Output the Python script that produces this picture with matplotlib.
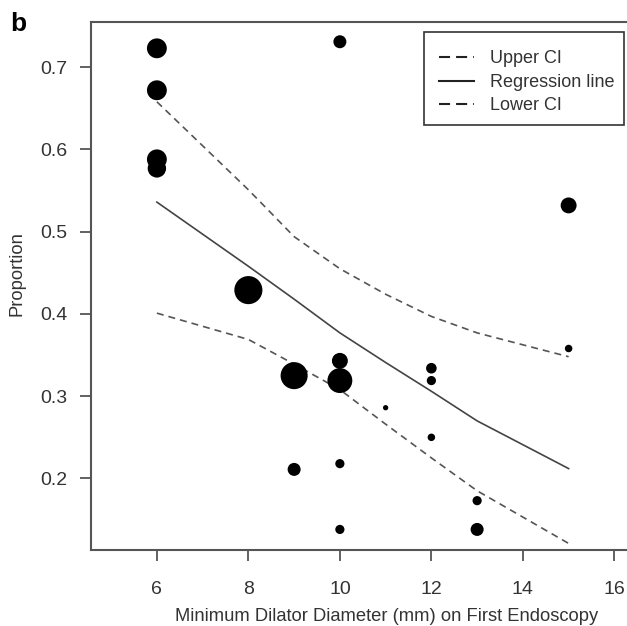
import numpy as np
import matplotlib.pyplot as plt
from matplotlib.lines import Line2D
from matplotlib.patches import Rectangle

plt.rcParams['font.family'] = ['Liberation Sans', 'DejaVu Sans']

# observed proportions, one circle per group, area scaled by group size
diameter_mm = [6, 6, 6, 6, 8, 9, 9, 10, 10, 10, 10, 10, 11, 12, 12, 12, 13, 13, 15, 15]
proportion = [0.723, 0.672, 0.588, 0.577, 0.429, 0.325, 0.211, 0.731, 0.343, 0.319,
              0.218, 0.138, 0.286, 0.334, 0.319, 0.250, 0.173, 0.138, 0.532, 0.358]
group_n = [14, 14, 14, 12, 28, 26, 6, 6, 9, 22, 3, 3, 1, 4, 3, 2, 3, 6, 9, 2]

# fitted curve and confidence band at the observed diameters
fit_x = [6, 8, 9, 10, 11, 12, 13, 15]
fit_y = [0.536, 0.458, 0.418, 0.377, 0.341, 0.306, 0.270, 0.212]
upper_ci = [0.658, 0.551, 0.494, 0.455, 0.424, 0.397, 0.377, 0.348]
lower_ci = [0.401, 0.369, 0.339, 0.308, 0.266, 0.225, 0.185, 0.121]

x_ticks = [6, 8, 10, 12, 14, 16]
y_ticks = [0.2, 0.3, 0.4, 0.5, 0.6, 0.7]

axis_col = '#555555'
text_col = '#333333'

W, H = 627, 626
fig = plt.figure(figsize=(W / 100, H / 100), dpi=100)
ax = fig.add_axes([91 / W, 1 - 550 / H, 543.5 / W, 528 / H])

ax.scatter(diameter_mm, proportion, s=np.array(group_n) * 14.6, c='black',
           linewidths=0, zorder=3)
ax.plot(fit_x, upper_ci, color='#555555', lw=1.2, dashes=(4.2, 3))
ax.plot(fit_x, fit_y, color='#444444', lw=1.2)
ax.plot(fit_x, lower_ci, color='#555555', lw=1.2, dashes=(4.2, 3))

ax.set_xlim(4.56, 16.44)
ax.set_ylim(0.113, 0.755)
ax.set_xticks(x_ticks)
ax.set_yticks(y_ticks)
ax.set_xticklabels([str(t) for t in x_ticks])
ax.set_yticklabels([f'{t:.1f}' for t in y_ticks])

for sp in ax.spines.values():
    sp.set_color(axis_col)
    sp.set_linewidth(1.5)
ax.tick_params(axis='both', direction='out', length=8, width=1.3, color=axis_col,
               labelcolor=text_col, labelsize=14)
ax.tick_params(axis='x', pad=14)
ax.tick_params(axis='y', pad=9)

ax.set_xlabel('Minimum Dilator Diameter (mm) on First Endoscopy', fontsize=13.2,
              color=text_col)
ax.xaxis.set_label_coords(0.5446, -0.11)
ax.set_ylabel('Proportion', fontsize=13.2, color=text_col)
ax.yaxis.set_label_coords(-0.1214, 0.523)

# legend entries without their own frame; box drawn separately
handles = [
    Line2D([], [], color='#222222', lw=1.5, dashes=(5.3, 2.9)),
    Line2D([], [], color='#222222', lw=1.5),
    Line2D([], [], color='#222222', lw=1.5, dashes=(5.3, 2.9)),
]
leg = fig.legend(handles, ['Upper CI', 'Regression line', 'Lower CI'],
                 loc='upper left', bbox_to_anchor=(424 / W, 1 - 35 / H),
                 fontsize=13, frameon=False, handlelength=1.9,
                 handletextpad=0.9, labelspacing=0.36, borderpad=0.85, borderaxespad=0)
for t in leg.get_texts():
    t.set_color(text_col)
fig.add_artist(Rectangle((424 / W, 1 - 125 / H), 200 / W, 93 / H,
                         transform=fig.transFigure, fill=False,
                         edgecolor='#333333', lw=1.2, zorder=5))

fig.text(10 / W, 1 - 31 / H, 'b', fontsize=19, fontweight='bold', va='baseline')

fig.savefig('out.png', dpi=100)
